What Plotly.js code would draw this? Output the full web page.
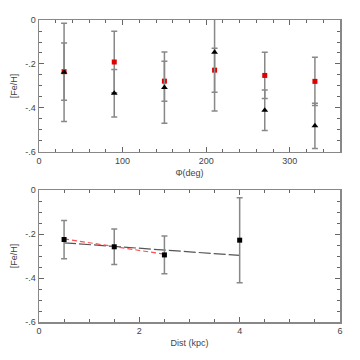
<!DOCTYPE html>
<html><head><meta charset="utf-8">
<script src="https://cdn.plot.ly/plotly-3.0.1.min.js"></script>
<style>html,body{margin:0;padding:0;background:#fff}#c{width:360px;height:360px}</style>
</head><body><div id="c"></div>
<script>
// Top panel: [Fe/H] vs azimuth
var phi = [30, 90, 150, 210, 270, 330];
var feRed = [-0.235, -0.191, -0.278, -0.228, -0.252, -0.279];
var errRed = [0.13, 0.14, 0.091, 0.10, 0.105, 0.11];
var feBlack = [-0.238, -0.333, -0.307, -0.147, -0.41, -0.481];
var errBlack = [0.223, 0.108, 0.162, 0.267, 0.092, 0.103];
// Bottom panel: [Fe/H] vs distance
var dist = [0.5, 1.5, 2.5, 4];
var feDist = [-0.225, -0.258, -0.295, -0.228];
var errDist = [0.087, 0.081, 0.086, 0.193];
var fitBlackX = [0.5, 4];
var fitBlackY = [-0.24, -0.2975];
var fitRedX = [0.5, 2.5];
var fitRedY = [-0.222, -0.292];
var yTickVals = [-0.6, -0.4, -0.2, 0];
var yTickText = ['-.6', '-.4', '-.2', '0'];

var eb = function(arr){return {type:'data', array:arr, visible:true, color:'#888', thickness:1.5, width:3};};
var traces = [
  {x:phi, y:feRed, type:'scatter', mode:'markers', marker:{symbol:'square', size:5, color:'#e00000'}, error_y:eb(errRed), xaxis:'x', yaxis:'y', cliponaxis:true},
  {x:phi, y:feBlack, type:'scatter', mode:'markers', marker:{symbol:'triangle-up', size:6, color:'#000'}, error_y:eb(errBlack), xaxis:'x', yaxis:'y'},
  {x:fitBlackX, y:fitBlackY, type:'scatter', mode:'lines', line:{color:'#555', width:1.2, dash:'12px,3px'}, xaxis:'x2', yaxis:'y2'},
  {x:fitRedX, y:fitRedY, type:'scatter', mode:'lines', line:{color:'#ff5050', width:1.2, dash:'5px,3px'}, xaxis:'x2', yaxis:'y2'},
  {x:dist, y:feDist, type:'scatter', mode:'markers', marker:{symbol:'square', size:5, color:'#000'}, error_y:eb(errDist), xaxis:'x2', yaxis:'y2'}
];
var tf = {family:'Liberation Sans, Arial, sans-serif', size:9, color:'#444'};
var axBase = {showgrid:false, zeroline:false, showline:true, linecolor:'#888', linewidth:1.5, mirror:'allticks', ticks:'inside', ticklen:5, tickcolor:'#666', tickwidth:1, tickfont:tf};
function ax(o){var r = JSON.parse(JSON.stringify(axBase)); for (var k in o) r[k]=o[k]; return r;}
var layout = {
  width:360, height:360, showlegend:false,
  paper_bgcolor:'#fff', plot_bgcolor:'#fff',
  margin:{l:39, r:20, t:20, b:38},
  xaxis: ax({domain:[0,1], range:[0,360], tickvals:[0,100,200,300], minor:{dtick:20, ticks:'inside', ticklen:3, tickcolor:'#666'}, anchor:'y', title:{text:'Φ(deg)', font:tf, standoff:4}}),
  yaxis: ax({domain:[0.563,1], range:[-0.6,0], tickvals:yTickVals, ticktext:yTickText, minor:{dtick:0.05, ticks:'inside', ticklen:3, tickcolor:'#666'}, anchor:'x', title:{text:'[Fe/H]', font:tf, standoff:6}}),
  xaxis2: ax({domain:[0,1], range:[0,6], tickvals:[0,2,4,6], minor:{dtick:0.5, ticks:'inside', ticklen:3, tickcolor:'#666'}, anchor:'y2', title:{text:'Dist (kpc)', font:tf, standoff:4}}),
  yaxis2: ax({domain:[0,0.437], range:[-0.6,0], tickvals:yTickVals, ticktext:yTickText, minor:{dtick:0.05, ticks:'inside', ticklen:3, tickcolor:'#666'}, anchor:'x2', title:{text:'[Fe/H]', font:tf, standoff:6}})
};
Plotly.newPlot('c', traces, layout, {staticPlot:true, displayModeBar:false});
</script></body></html>
